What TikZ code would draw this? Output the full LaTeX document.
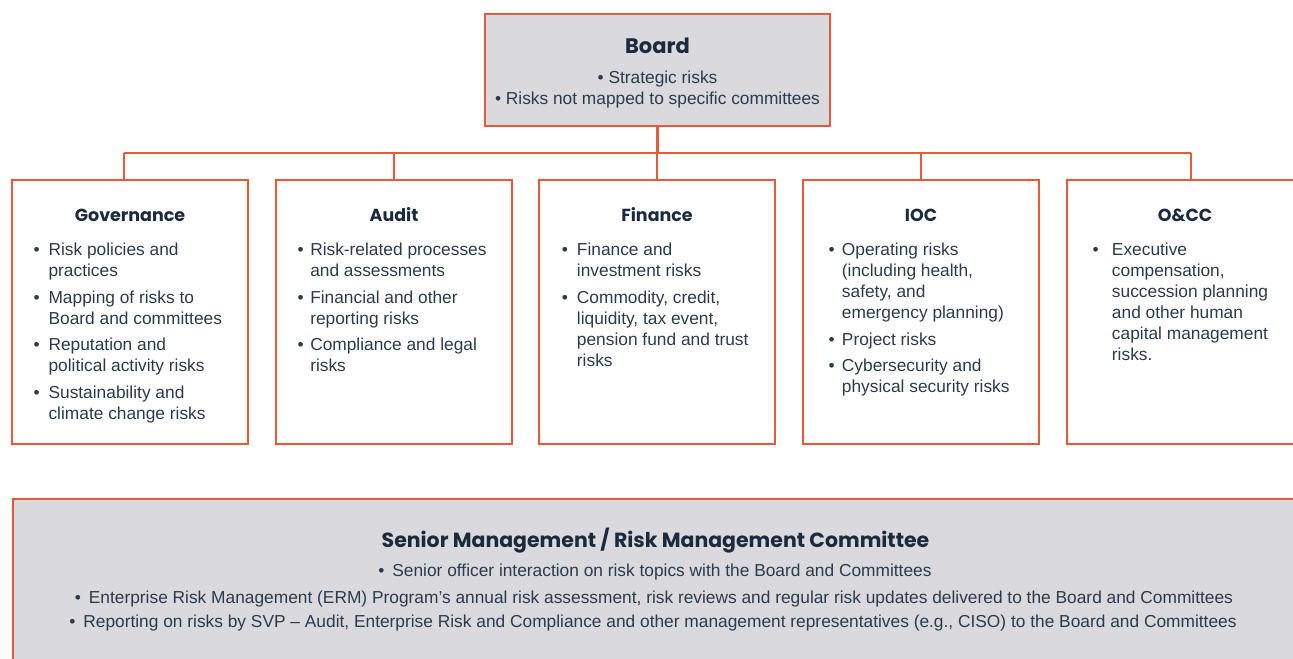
\documentclass[tikz,border=0pt]{standalone}
\usepackage{fontspec}
\setmainfont{Liberation Sans}
\newfontfamily\headfont{Poppins}
\definecolor{orng}{HTML}{E8583A}
\definecolor{boxgray}{HTML}{D9D9DE}
\definecolor{headc}{HTML}{1B2A3C}
\definecolor{bodyc}{HTML}{2C3B4C}
\newdimen\px \px=0.75pt
\newdimen\bgap \bgap=15\px
\newcommand{\itm}[1]{\makebox[\bgap][l]{\textbullet}#1}
\newcommand{\cnt}[1]{\hspace*{\bgap}#1}
\newcommand{\lns}[1]{\begin{tabular}[t]{@{}l@{}}#1\end{tabular}}
\newcommand{\clns}[1]{\begin{tabular}[t]{@{}c@{}}#1\end{tabular}}
\begin{document}
\begin{tikzpicture}[x=0.75pt,y=-0.75pt,
  box/.style={draw=orng, line width=1.8pt, inner sep=0pt},
  gbox/.style={box, fill=boxgray},
  link/.style={draw=orng, line width=1.6pt},
  headA/.style={inner sep=0pt, anchor=base, text=headc, font=\headfont\bfseries\fontsize{15.75}{18}\selectfont},
  headB/.style={inner sep=0pt, anchor=base, text=headc, font=\headfont\bfseries\fontsize{13.1}{16}\selectfont},
  headC/.style={inner sep=0pt, anchor=base, text=headc, font=\headfont\bfseries\fontsize{15.35}{18}\selectfont},
  body/.style={inner sep=0pt, text=bodyc, font=\fontsize{13}{15.75}\selectfont},
]
\useasboundingbox (0,0) rectangle (1293,658);
\clip (0,0) rectangle (1293,658);

% boxes
\node[gbox, minimum width=345*0.75pt, minimum height=112*0.75pt] (board) at (657.5,70) {};
\node[box, minimum width=236*0.75pt, minimum height=264*0.75pt] (gov) at (130,312) {};
\node[box, minimum width=236*0.75pt, minimum height=264*0.75pt] (aud) at (394,312) {};
\node[box, minimum width=236*0.75pt, minimum height=264*0.75pt] (fin) at (657,312) {};
\node[box, minimum width=236*0.75pt, minimum height=264*0.75pt] (ioc) at (921,312) {};
\node[box, minimum width=236*0.75pt, minimum height=264*0.75pt] (occ) at (1185,312) {};
\node[gbox, minimum width=1286*0.75pt, minimum height=200*0.75pt, anchor=north west] (senior) at (12,498) {};

% connectors
\coordinate (bus) at (657.5,153);
\coordinate (b1) at (124,153);
\coordinate (b2) at (394,153);
\coordinate (b3) at (657,153);
\coordinate (b4) at (921,153);
\coordinate (b5) at (1191,153);
\draw[link] (board.south) -- (bus);
\draw[link] (b1) -- (b5);
\draw[link] (b1) -- (b1 |- gov.north);
\draw[link] (b2) -- (b2 |- aud.north);
\draw[link] (b3) -- (b3 |- fin.north);
\draw[link] (b4) -- (b4 |- ioc.north);
\draw[link] (b5) -- (b5 |- occ.north);

% Board text
\node[headA] (boardT) at (657.5,53) {Board};
\node[body, anchor=base] (boardL) at (657.5,83) {\clns{\textbullet{} Strategic risks\\ \textbullet{} Risks not mapped to specific committees}};

% committee headers
\node[headB] (govT) at (130,221.7) {Governance};
\node[headB] (audT) at (394,221.7) {Audit};
\node[headB] (finT) at (657,221.7) {Finance};
\node[headB] (iocT) at (921,221.7) {IOC};
\node[headB] (occT) at (1185,221.7) {O\&CC};

% committee lists
\node[body, anchor=base west] (govL) at (33.3,255.5) {\bgap=15\px\lns{%
\itm{Risk policies and}\\ \cnt{practices}\\[4.2pt]
\itm{Mapping of risks to}\\ \cnt{Board and committees}\\[4.2pt]
\itm{Reputation and}\\ \cnt{political activity risks}\\[4.2pt]
\itm{Sustainability and}\\ \cnt{climate change risks}}};
\node[body, anchor=base west] (audL) at (297.3,255.5) {\bgap=12.7\px\lns{%
\itm{Risk-related processes}\\ \cnt{and assessments}\\[4.2pt]
\itm{Financial and other}\\ \cnt{reporting risks}\\[4.2pt]
\itm{Compliance and legal}\\ \cnt{risks}}};
\node[body, anchor=base west] (finL) at (561.7,255.5) {\bgap=15\px\lns{%
\itm{Finance and}\\ \cnt{investment risks}\\[4.2pt]
\itm{Commodity, credit,}\\ \cnt{liquidity, tax event,}\\ \cnt{pension fund and trust}\\ \cnt{risks}}};
\node[body, anchor=base west] (iocL) at (828.3,255.5) {\bgap=13.4\px\lns{%
\itm{Operating risks}\\ \cnt{(including health,}\\ \cnt{safety, and}\\ \cnt{emergency planning)}\\[4.2pt]
\itm{Project risks}\\[4.2pt]
\itm{Cybersecurity and}\\ \cnt{physical security risks}}};
\node[body, anchor=base west] (occL) at (1092.3,255.5) {\bgap=19.4\px\lns{%
\itm{Executive}\\ \cnt{compensation,}\\ \cnt{succession planning}\\ \cnt{and other human}\\ \cnt{capital management}\\ \cnt{risks.}}};

% senior management
\node[headC] (senT) at (655.5,547) {Senior Management / Risk Management Committee};
\node[body, anchor=base] (sen1) at (655,576) {\makebox[14\px][l]{\textbullet}Senior officer interaction on risk topics with the Board and Committees};
\node[body, anchor=base] (sen2) at (654,603) {\makebox[14\px][l]{\textbullet}Enterprise Risk Management (ERM) Program’s annual risk assessment, risk reviews and regular risk updates delivered to the Board and Committees};
\node[body, anchor=base] (sen3) at (653,627) {\makebox[14\px][l]{\textbullet}Reporting on risks by SVP – Audit, Enterprise Risk and Compliance and other management representatives (e.g., CISO) to the Board and Committees};
\end{tikzpicture}
\end{document}
